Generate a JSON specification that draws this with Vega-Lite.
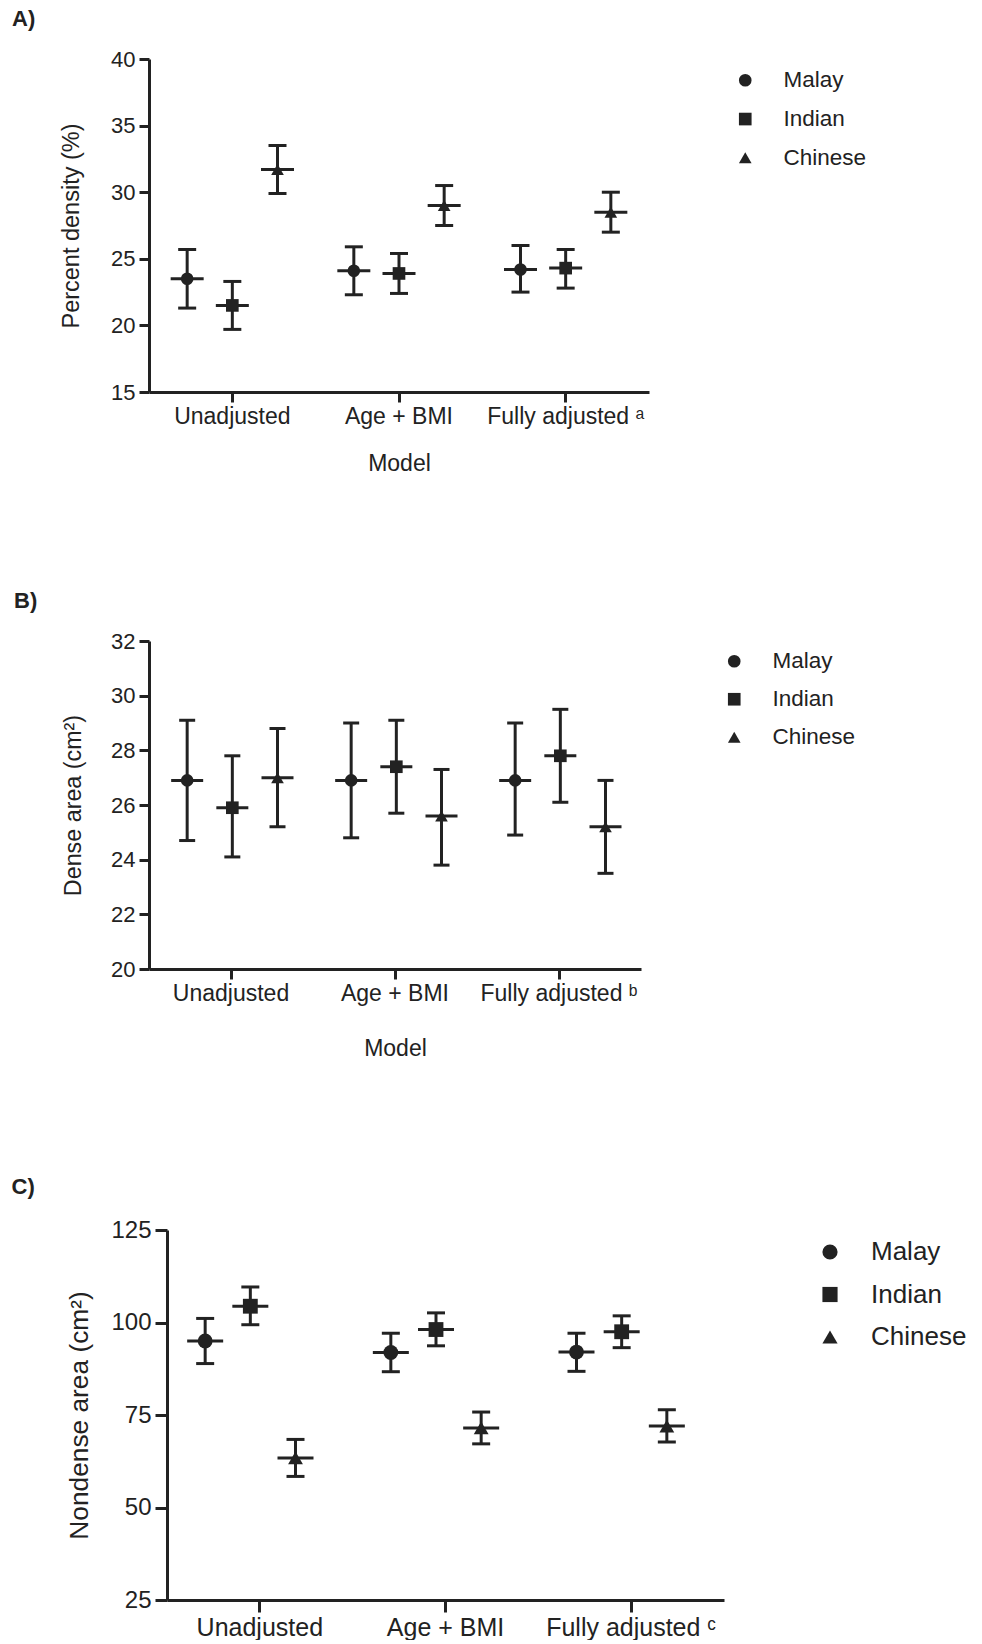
{
  "$schema": "https://vega.github.io/schema/vega-lite/v6.json",
  "background": "white",
  "padding": {"left": 11, "top": 8, "right": 0, "bottom": 0},
  "columns": 1,
  "spacing": 115,
  "resolve": {"scale": {"shape": "independent"}, "legend": {"shape": "independent"}},
  "datasets": {
    "a": [
      {"model": "Unadjusted", "group": "Malay", "mean": 23.5, "lower": 21.3, "upper": 25.7},
      {"model": "Unadjusted", "group": "Indian", "mean": 21.5, "lower": 19.7, "upper": 23.3},
      {"model": "Unadjusted", "group": "Chinese", "mean": 31.7, "lower": 29.9, "upper": 33.5},
      {"model": "Age + BMI", "group": "Malay", "mean": 24.1, "lower": 22.3, "upper": 25.9},
      {"model": "Age + BMI", "group": "Indian", "mean": 23.9, "lower": 22.4, "upper": 25.4},
      {"model": "Age + BMI", "group": "Chinese", "mean": 29.0, "lower": 27.5, "upper": 30.5},
      {"model": "Fully adjusted", "group": "Malay", "mean": 24.2, "lower": 22.5, "upper": 26.0},
      {"model": "Fully adjusted", "group": "Indian", "mean": 24.3, "lower": 22.8, "upper": 25.7},
      {"model": "Fully adjusted", "group": "Chinese", "mean": 28.5, "lower": 27.0, "upper": 30.0}
    ],
    "b": [
      {"model": "Unadjusted", "group": "Malay", "mean": 26.9, "lower": 24.7, "upper": 29.1},
      {"model": "Unadjusted", "group": "Indian", "mean": 25.9, "lower": 24.1, "upper": 27.8},
      {"model": "Unadjusted", "group": "Chinese", "mean": 27.0, "lower": 25.2, "upper": 28.8},
      {"model": "Age + BMI", "group": "Malay", "mean": 26.9, "lower": 24.8, "upper": 29.0},
      {"model": "Age + BMI", "group": "Indian", "mean": 27.4, "lower": 25.7, "upper": 29.1},
      {"model": "Age + BMI", "group": "Chinese", "mean": 25.6, "lower": 23.8, "upper": 27.3},
      {"model": "Fully adjusted", "group": "Malay", "mean": 26.9, "lower": 24.9, "upper": 29.0},
      {"model": "Fully adjusted", "group": "Indian", "mean": 27.8, "lower": 26.1, "upper": 29.5},
      {"model": "Fully adjusted", "group": "Chinese", "mean": 25.2, "lower": 23.5, "upper": 26.9}
    ],
    "c": [
      {"model": "Unadjusted", "group": "Malay", "mean": 95.0, "lower": 88.9, "upper": 101.1},
      {"model": "Unadjusted", "group": "Indian", "mean": 104.4, "lower": 99.4, "upper": 109.6},
      {"model": "Unadjusted", "group": "Chinese", "mean": 63.4, "lower": 58.4, "upper": 68.4},
      {"model": "Age + BMI", "group": "Malay", "mean": 91.9, "lower": 86.7, "upper": 97.1},
      {"model": "Age + BMI", "group": "Indian", "mean": 98.1, "lower": 93.7, "upper": 102.6},
      {"model": "Age + BMI", "group": "Chinese", "mean": 71.5, "lower": 67.2, "upper": 75.8},
      {"model": "Fully adjusted", "group": "Malay", "mean": 92.0, "lower": 86.8, "upper": 97.1},
      {"model": "Fully adjusted", "group": "Indian", "mean": 97.5, "lower": 93.2, "upper": 101.8},
      {"model": "Fully adjusted", "group": "Chinese", "mean": 72.0, "lower": 67.7, "upper": 76.4}
    ]
  },
  "concat": [
    {
      "width": 500,
      "height": 333,
      "title": {"text": "A)", "anchor": "start", "frame": "group", "dx": -137, "offset": 0, "baseline": "alphabetic", "fontSize": 22, "fontWeight": "bold", "font": "Liberation Sans", "color": "#222"},
      "data": {"name": "a"},
      "encoding": {
        "x": {"field": "model", "type": "nominal", "sort": ["Unadjusted", "Age + BMI", "Fully adjusted"], "scale": {"type": "band", "paddingInner": 0, "paddingOuter": 0},
          "axis": {"title": "Model", "labelAngle": 0, "labelFontSize": 23, "titleFontSize": 23, "tickSize": 10, "labelPadding": 3, "titlePadding": 24, "labelExpr": "datum.value == 'Fully adjusted' ? 'Fully adjusted ᵃ' : datum.value"}},
        "xOffset": {"field": "group", "type": "nominal", "sort": ["Malay", "Indian", "Chinese"], "scale": {"paddingInner": 0, "paddingOuter": 0.345}}
      },
      "layer": [
        {"mark": {"type": "rule", "strokeWidth": 3, "color": "#222"},
          "encoding": {"y": {"field": "lower", "type": "quantitative", "title": "Percent density (%)", "scale": {"domain": [15, 40], "nice": false, "zero": false},
            "axis": {"values": [15, 20, 25, 30, 35, 40], "labelFontSize": 22, "titleFontSize": 23.5, "tickSize": 10, "labelPadding": 4, "titlePadding": 27}},
            "y2": {"field": "upper"}}},
        {"mark": {"type": "tick", "thickness": 3, "color": "#222", "opacity": 1},
          "encoding": {"y": {"field": "lower", "type": "quantitative", "title": "Percent density (%)"}, "size": {"value": 18}}},
        {"mark": {"type": "tick", "thickness": 3, "color": "#222", "opacity": 1},
          "encoding": {"y": {"field": "upper", "type": "quantitative", "title": "Percent density (%)"}, "size": {"value": 18}}},
        {"mark": {"type": "tick", "thickness": 3, "color": "#222", "opacity": 1},
          "encoding": {"y": {"field": "mean", "type": "quantitative", "title": "Percent density (%)"}, "size": {"value": 33}}},
        {"mark": {"type": "point", "filled": true, "color": "#222", "opacity": 1, "size": 160},
          "encoding": {"y": {"field": "mean", "type": "quantitative", "title": "Percent density (%)"},
            "shape": {"field": "group", "type": "nominal", "scale": {"domain": ["Malay", "Indian", "Chinese"], "range": ["circle", "square", "triangle-up"]},
              "legend": {"orient": "none", "legendX": 585, "legendY": 10, "title": null, "labelFontSize": 22.5, "labelOffset": 27, "rowPadding": 15.8, "symbolSize": 160, "symbolFillColor": "#222", "symbolStrokeColor": "#222", "symbolStrokeWidth": 0, "padding": 0}}}}
      ]
    },
    {
      "width": 492,
      "height": 328,
      "title": {"text": "B)", "anchor": "start", "frame": "group", "dx": -135, "offset": 0, "baseline": "alphabetic", "fontSize": 22, "fontWeight": "bold", "font": "Liberation Sans", "color": "#222"},
      "data": {"name": "b"},
      "encoding": {
        "x": {"field": "model", "type": "nominal", "sort": ["Unadjusted", "Age + BMI", "Fully adjusted"], "scale": {"type": "band", "paddingInner": 0, "paddingOuter": 0},
          "axis": {"title": "Model", "labelAngle": 0, "labelFontSize": 23, "titleFontSize": 23, "tickSize": 10, "labelPadding": 3, "titlePadding": 32.6, "labelExpr": "datum.value == 'Fully adjusted' ? 'Fully adjusted ᵇ' : datum.value"}},
        "xOffset": {"field": "group", "type": "nominal", "sort": ["Malay", "Indian", "Chinese"], "scale": {"paddingInner": 0, "paddingOuter": 0.345}}
      },
      "layer": [
        {"mark": {"type": "rule", "strokeWidth": 3, "color": "#222"},
          "encoding": {"y": {"field": "lower", "type": "quantitative", "title": "Dense area (cm²)", "scale": {"domain": [20, 32], "nice": false, "zero": false},
            "axis": {"values": [20, 22, 24, 26, 28, 30, 32], "labelFontSize": 22, "titleFontSize": 23.3, "tickSize": 10, "labelPadding": 4, "titlePadding": 25}},
            "y2": {"field": "upper"}}},
        {"mark": {"type": "tick", "thickness": 3, "color": "#222", "opacity": 1},
          "encoding": {"y": {"field": "lower", "type": "quantitative", "title": "Dense area (cm²)"}, "size": {"value": 16}}},
        {"mark": {"type": "tick", "thickness": 3, "color": "#222", "opacity": 1},
          "encoding": {"y": {"field": "upper", "type": "quantitative", "title": "Dense area (cm²)"}, "size": {"value": 16}}},
        {"mark": {"type": "tick", "thickness": 3, "color": "#222", "opacity": 1},
          "encoding": {"y": {"field": "mean", "type": "quantitative", "title": "Dense area (cm²)"}, "size": {"value": 32}}},
        {"mark": {"type": "point", "filled": true, "color": "#222", "opacity": 1, "size": 160},
          "encoding": {"y": {"field": "mean", "type": "quantitative", "title": "Dense area (cm²)"},
            "shape": {"field": "group", "type": "nominal", "scale": {"domain": ["Malay", "Indian", "Chinese"], "range": ["circle", "square", "triangle-up"]},
              "legend": {"orient": "none", "legendX": 574, "legendY": 9, "title": null, "labelFontSize": 22.5, "labelOffset": 27, "rowPadding": 15, "symbolSize": 160, "symbolFillColor": "#222", "symbolStrokeColor": "#222", "symbolStrokeWidth": 0, "padding": 0}}}}
      ]
    },
    {
      "width": 575,
      "height": 370,
      "title": {"text": "C)", "anchor": "start", "frame": "group", "dx": -137.5, "offset": 2, "baseline": "alphabetic", "fontSize": 22, "fontWeight": "bold", "font": "Liberation Sans", "color": "#222"},
      "data": {"name": "c"},
      "encoding": {
        "x": {"field": "model", "type": "nominal", "sort": ["Unadjusted", "Age + BMI", "Fully adjusted"], "scale": {"type": "band", "paddingInner": 0, "paddingOuter": 0, "range": [18, 575]},
          "axis": {"title": null, "labelAngle": 0, "labelFontSize": 25, "tickSize": 12, "labelPadding": 3, "labelExpr": "datum.value == 'Fully adjusted' ? 'Fully adjusted ᶜ' : datum.value"}},
        "xOffset": {"field": "group", "type": "nominal", "sort": ["Malay", "Indian", "Chinese"], "scale": {"paddingInner": 0, "paddingOuter": 0.357}}
      },
      "layer": [
        {"mark": {"type": "rule", "strokeWidth": 3, "color": "#222"},
          "encoding": {"y": {"field": "lower", "type": "quantitative", "title": "Nondense area (cm²)", "scale": {"domain": [25, 125], "nice": false, "zero": false},
            "axis": {"values": [25, 50, 75, 100, 125], "offset": -18, "labelFontSize": 24, "titleFontSize": 26.3, "tickSize": 12, "labelPadding": 4, "titlePadding": 17}},
            "y2": {"field": "upper"}}},
        {"mark": {"type": "tick", "thickness": 3, "color": "#222", "opacity": 1},
          "encoding": {"y": {"field": "lower", "type": "quantitative", "title": "Nondense area (cm²)"}, "size": {"value": 18}}},
        {"mark": {"type": "tick", "thickness": 3, "color": "#222", "opacity": 1},
          "encoding": {"y": {"field": "upper", "type": "quantitative", "title": "Nondense area (cm²)"}, "size": {"value": 18}}},
        {"mark": {"type": "tick", "thickness": 3, "color": "#222", "opacity": 1},
          "encoding": {"y": {"field": "mean", "type": "quantitative", "title": "Nondense area (cm²)"}, "size": {"value": 36}}},
        {"mark": {"type": "point", "filled": true, "color": "#222", "opacity": 1, "size": 220},
          "encoding": {"y": {"field": "mean", "type": "quantitative", "title": "Nondense area (cm²)"},
            "shape": {"field": "group", "type": "nominal", "scale": {"domain": ["Malay", "Indian", "Chinese"], "range": ["circle", "square", "triangle-up"]},
              "legend": {"orient": "none", "legendX": 668, "legendY": 9, "title": null, "labelFontSize": 26, "labelOffset": 28, "rowPadding": 16.5, "symbolSize": 230, "symbolFillColor": "#222", "symbolStrokeColor": "#222", "symbolStrokeWidth": 0, "padding": 0}}}}
      ]
    }
  ],
  "config": {
    "view": {"stroke": null},
    "font": "Liberation Sans",
    "axis": {"grid": false, "domainColor": "#222", "domainWidth": 3, "tickColor": "#222", "tickWidth": 3, "labelColor": "#222", "titleColor": "#222", "labelFont": "Liberation Sans", "titleFont": "Liberation Sans", "titleFontWeight": "normal"},
    "legend": {"labelFont": "Liberation Sans", "labelColor": "#222"}
  }
}
